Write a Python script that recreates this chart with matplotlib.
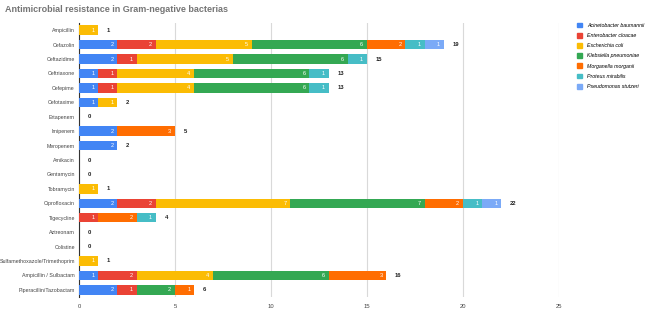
import numpy as np
import matplotlib.pyplot as plt
from matplotlib.patches import Patch

plt.rcParams['font.family'] = ['Liberation Sans', 'DejaVu Sans']

drugs = ['Ampicillin', 'Cefazolin', 'Ceftazidime', 'Ceftriaxone', 'Cefepime', 'Cefotaxime',
         'Ertapenem', 'Imipenem', 'Meropenem', 'Amikacin', 'Gentamycin', 'Tobramycin',
         'Ciprofloxacin', 'Tigecycline', 'Aztreonam', 'Colistine',
         'Sulfamethoxazole/Trimethoprim', 'Ampicillin / Sulbactam', 'Piperacillin/Tazobactam']
species = ['Acinetobacter baumannii', 'Enterobacter cloacae', 'Escherichia coli',
           'Klebsiella pneumoniae', 'Morganella morganii', 'Proteus mirabilis',
           'Pseudomonas stutzeri']
acineto = [0, 2, 2, 1, 1, 1, 0, 2, 2, 0, 0, 0, 2, 0, 0, 0, 0, 1, 2]
entero  = [0, 2, 1, 1, 1, 0, 0, 0, 0, 0, 0, 0, 2, 1, 0, 0, 0, 2, 1]
ecoli   = [1, 5, 5, 4, 4, 1, 0, 0, 0, 0, 0, 1, 7, 0, 0, 0, 1, 4, 0]
klebs   = [0, 6, 6, 6, 6, 0, 0, 0, 0, 0, 0, 0, 7, 0, 0, 0, 0, 6, 2]
morgan  = [0, 2, 0, 0, 0, 0, 0, 3, 0, 0, 0, 0, 2, 2, 0, 0, 0, 3, 1]
proteus = [0, 1, 1, 1, 1, 0, 0, 0, 0, 0, 0, 0, 1, 1, 0, 0, 0, 0, 0]
pseudo  = [0, 1, 0, 0, 0, 0, 0, 0, 0, 0, 0, 0, 1, 0, 0, 0, 0, 0, 0]
colors = ['#4285f4', '#ea4335', '#fbbc04', '#34a853', '#ff6d01', '#46bdc6', '#7baaf7']

series = [acineto, entero, ecoli, klebs, morgan, proteus, pseudo]

fig = plt.figure(figsize=(6.49, 3.10), dpi=100)
ax = fig.add_axes([79/649, 1 - 297/310, (559-79)/649, (297-23)/310])

y = np.arange(len(drugs))
left = np.zeros(len(drugs))
for vals, c in zip(series, colors):
    vals = np.array(vals)
    ax.barh(y, vals, left=left, height=0.66, color=c, zorder=3)
    for i, v in enumerate(vals):
        if v > 0:
            ax.text(left[i] + v - 0.2, y[i], str(v), ha='right', va='center',
                    color='white', fontsize=4, zorder=4)
    left += vals

for i, t in enumerate(left):
    ax.text(t + 0.45, y[i], str(int(t)), ha='left', va='center', fontsize=4.2,
            fontweight='bold', color='#222222')

ax.set_xlim(0, 25)
ax.set_ylim(len(drugs) - 0.5, -0.5)
ax.set_yticks(y)
ax.set_yticklabels(drugs, fontsize=3.8, color='#444444')
ax.set_xticks([0, 5, 10, 15, 20, 25])
ax.tick_params(axis='x', labelsize=4.2, colors='#444444', length=0, pad=5)
ax.tick_params(axis='y', length=0, pad=3)
ax.grid(axis='x', color='#d9d9d9', linewidth=0.8, zorder=0)
for s in ['top', 'right', 'bottom']:
    ax.spines[s].set_visible(False)
ax.spines['left'].set_color('#333333')
ax.spines['left'].set_linewidth(0.8)

fig.text(5/649, 1 - 9/310, 'Antimicrobial resistance in Gram-negative bacterias',
         fontsize=6.5, fontweight='bold', color='#757575', va='center')

handles = [Patch(color=c, label=s) for s, c in zip(species, colors)]
fig.legend(handles=handles, loc='upper left', bbox_to_anchor=(572/649, 1 - 18/310),
           frameon=False, prop={'style': 'italic', 'size': 3.8},
           handlelength=1.0, handleheight=1.0, labelspacing=0.95, handletextpad=0.9)

fig.savefig('out.png', dpi=100)
